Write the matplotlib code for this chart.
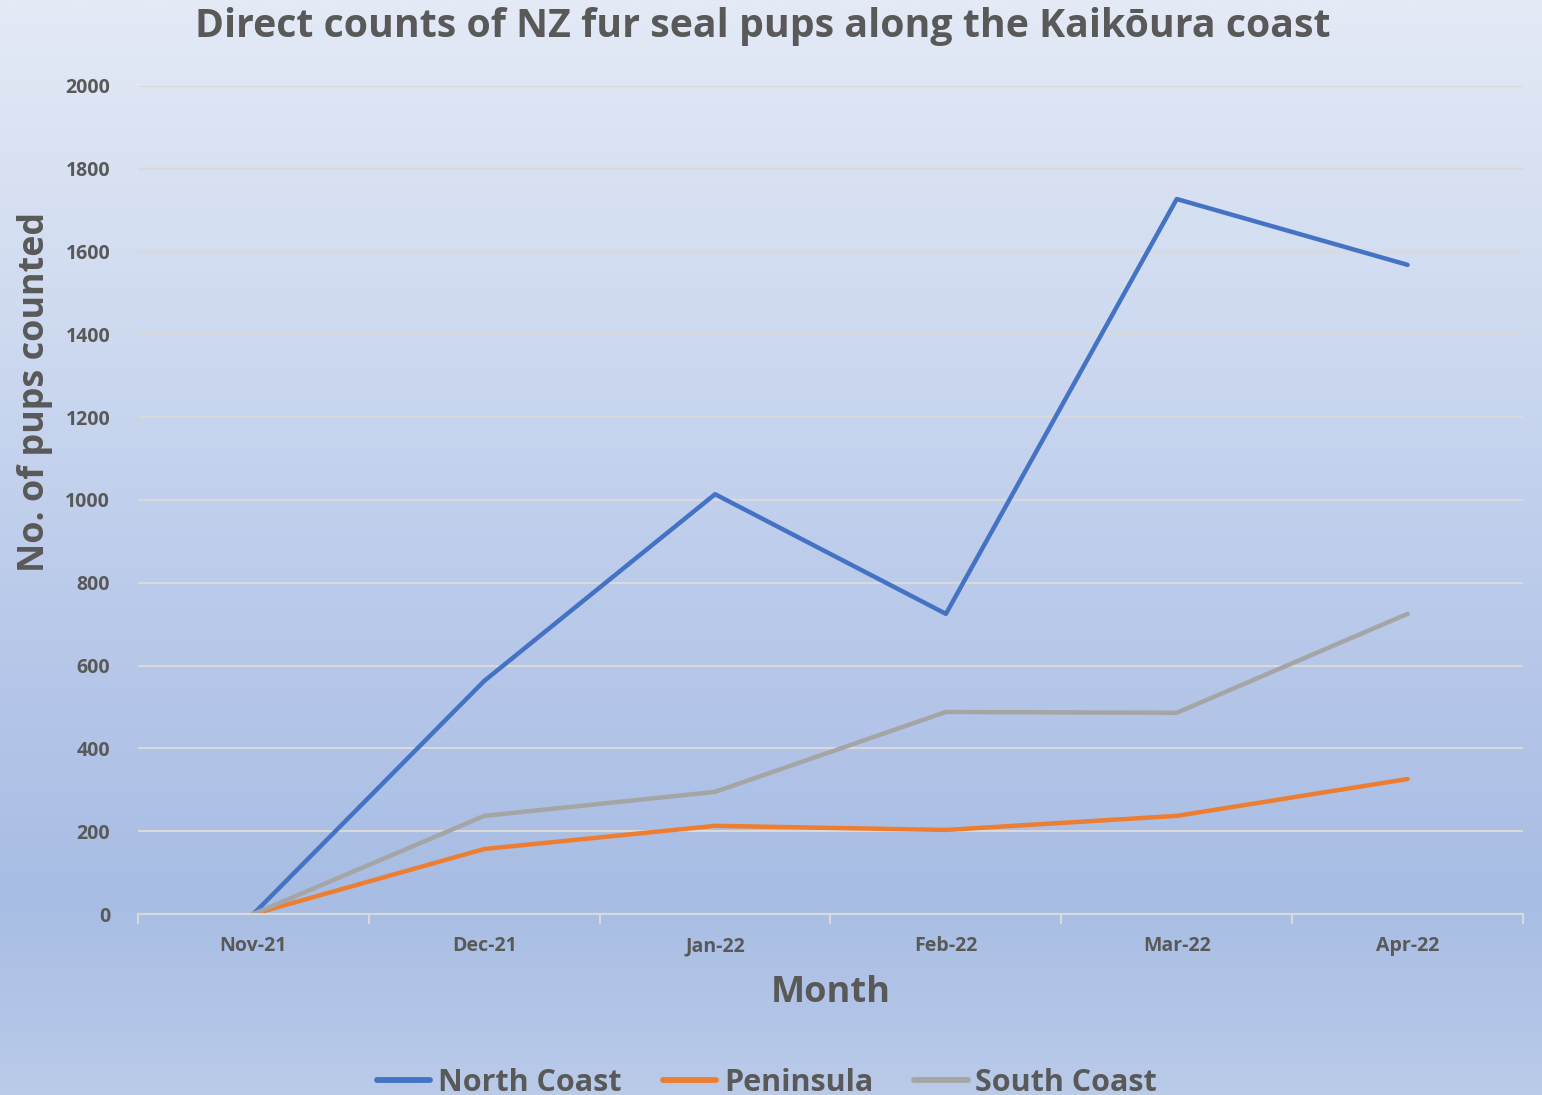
import numpy as np
import matplotlib
matplotlib.use("Agg")
import matplotlib.pyplot as plt
from matplotlib.colors import LinearSegmentedColormap

months = ["Nov-21", "Dec-21", "Jan-22", "Feb-22", "Mar-22", "Apr-22"]
north_coast = [0, 563, 1014, 725, 1727, 1568]
peninsula = [0, 157, 213, 203, 237, 326]
south_coast = [0, 237, 295, 488, 486, 725]

plt.rcParams['font.family'] = ['Open Sans', 'DejaVu Sans']
plt.rcParams['font.weight'] = 'bold'
text_col = '#595959'

fig = plt.figure(figsize=(15.42, 10.95), dpi=100)

# gradient background
bg = fig.add_axes([0, 0, 1, 1], zorder=0)
stops = [(0.0, (228/255, 234/255, 246/255)),
         (0.3, (206/255, 218/255, 240/255)),
         (0.55, (186/255, 202/255, 234/255)),
         (0.82, (168/255, 189/255, 228/255)),
         (1.0, (186/255, 203/255, 233/255))]
cmap = LinearSegmentedColormap.from_list('bg', stops)
grad = np.linspace(0, 1, 512).reshape(-1, 1)
bg.imshow(grad, aspect='auto', cmap=cmap, extent=[0, 1, 1, 0])
bg.axis('off')

ax = fig.add_axes([138/1542, 1 - 914/1095, (1523-138)/1542, (914-86)/1095], zorder=1)
ax.set_facecolor('none')

x = np.arange(len(months))
style = dict(lw=3.2, solid_capstyle='round', solid_joinstyle='round')
ax.plot(x, north_coast, color='#4472c4', label='North Coast', **style)
ax.plot(x, peninsula, color='#ed7d31', label='Peninsula', **style)
ax.plot(x, south_coast, color='#a5a5a5', label='South Coast', **style)

ax.set_xlim(-0.5, len(months) - 0.5)
ax.set_ylim(0, 2000)
ax.set_yticks(range(0, 2001, 200))
ax.set_xticks(x)
ax.set_xticklabels(months)
ax.set_xticks(np.arange(-0.5, len(months), 1), minor=True)
ax.grid(axis='y', color='#d9d9d9', lw=1.5)
ax.set_axisbelow(True)
for s in ['top', 'right', 'left']:
    ax.spines[s].set_visible(False)
ax.spines['bottom'].set_color('#d9d9d9')
ax.spines['bottom'].set_linewidth(1.5)
ax.tick_params(axis='y', length=0, pad=20, labelsize=14, labelcolor=text_col)
ax.tick_params(axis='x', which='major', length=0, pad=16, labelsize=14, labelcolor=text_col)
ax.tick_params(axis='x', which='minor', length=7, width=1.5, color='#d9d9d9')

fig.text(763/1542, 1 - 26/1095, 'Direct counts of NZ fur seal pups along the Kaikōura coast',
         ha='center', va='center', fontsize=28.3, color=text_col, fontweight='bold')
fig.text(35/1542, 1 - 392/1095, 'No. of pups counted', rotation=90, ha='center', va='center',
         fontsize=25.8, color=text_col, fontweight='bold')
fig.text(831/1542, 1 - 993/1095, 'Month', ha='center', va='center',
         fontsize=26, color=text_col, fontweight='bold')

leg = fig.legend(loc='center', bbox_to_anchor=(767/1542, 1 - 1083/1095), ncol=3, frameon=False,
                 fontsize=22, handlelength=1.75, handletextpad=0.25, columnspacing=1.35)
for t in leg.get_texts():
    t.set_color(text_col)
for h in leg.legend_handles:
    h.set_linewidth(4.2)

fig.savefig('out.png', dpi=100)
